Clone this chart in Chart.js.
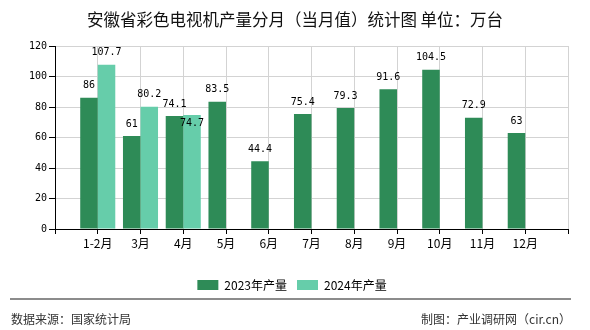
<!DOCTYPE html>
<html>
<head>
<meta charset="utf-8">
<script src="https://cdn.jsdelivr.net/npm/chart.js@4/dist/chart.umd.min.js"></script>
<style>
  html, body { margin: 0; padding: 0; background: #ffffff; }
  #wrap { position: relative; width: 590px; height: 330px; overflow: hidden; background: #fff; }
  #c { position: absolute; left: 0; top: 0; }
  #title { position: absolute; left: 0; top: 8px; width: 590px; text-align: center;
           font: 16.5px "Noto Sans CJK SC", sans-serif; line-height: 22px; color: #111; white-space: pre; }
  #fline { position: absolute; left: 10px; top: 298px; width: 561px; height: 2px; background: #8c8c8c; }
  .foot { position: absolute; top: 311px; font: 12px "Noto Sans CJK SC", sans-serif; line-height: 16px; color: #333; white-space: pre; }
  #fl { left: 11px; }
  #fr { right: 19px; }
</style>
</head>
<body>
<div id="wrap">
  <canvas id="c" width="590" height="330"></canvas>
  <div id="title">安徽省彩色电视机产量分月（当月值）统计图 单位：万台</div>
  <div id="fline"></div>
  <div class="foot" id="fl">数据来源：国家统计局</div>
  <div class="foot" id="fr">制图：产业调研网（cir.cn）</div>
</div>
<script>
const months = ['1-2月', '3月', '4月', '5月', '6月', '7月', '8月', '9月', '10月', '11月', '12月'];
const prod2023 = [86, 61, 74.1, 83.5, 44.4, 75.4, 79.3, 91.6, 104.5, 72.9, 63];
const prod2024 = [107.7, 80.2, 74.7, null, null, null, null, null, null, null, null];
const yTicks = [0, 20, 40, 60, 80, 100, 120];
const seriesNames = ['2023年产量', '2024年产量'];

// empty slots at both ends so that gridlines fall between the bar pairs
const labels = [''].concat(months, ['']);
const pad = arr => [null].concat(arr, [null]);

const numFont = '10px "DejaVu Sans Mono", monospace';

const valueLabels = {
  id: 'valueLabels',
  afterLayout(chart) {
    // centre the legend on the whole page width, as in the reference
    if (chart.legend) { chart.legend.right = 584; chart.legend.width = chart.legend.right - chart.legend.left; }
  },
  afterDatasetsDraw(chart) {
    const ctx = chart.ctx;
    ctx.save();
    ctx.font = numFont;
    ctx.fillStyle = '#000';
    ctx.textAlign = 'center';
    ctx.textBaseline = 'middle';
    const boxes = [];
    chart.data.datasets.forEach((ds, di) => {
      const meta = chart.getDatasetMeta(di);
      meta.data.forEach((el, i) => {
        const v = ds.data[i];
        if (v === null || v === undefined) return;
        const t = String(v);
        const w = ctx.measureText(t).width;
        let y = el.y - 12;
        const h = 10;
        const overlaps = boxes.some(b => Math.abs(b.x - el.x) < (b.w + w) / 2 && Math.abs(b.y - y) < h);
        if (overlaps) y = el.y + 8;
        boxes.push({x: el.x, y, w});
        ctx.fillText(t, el.x, y);
      });
    });
    ctx.restore();
  }
};

new Chart(document.getElementById('c'), {
  type: 'bar',
  data: {
    labels: labels,
    datasets: [
      { label: seriesNames[0], data: pad(prod2023), backgroundColor: '#2E8B57' },
      { label: seriesNames[1], data: pad(prod2024), backgroundColor: '#66CDAA' }
    ]
  },
  options: {
    responsive: false,
    devicePixelRatio: 1,
    animation: false,
    categoryPercentage: 0.82,
    barPercentage: 1.0,
    layout: { padding: { top: 46, right: 22, left: 0, bottom: 29 } },
    scales: {
      x: {
        offset: false,
        grid: { color: '#d3d3d3', tickColor: '#000', tickLength: 5, offset: false },
        border: { color: '#000', width: 1 },
        ticks: { color: '#000', font: { family: '"Noto Sans CJK SC"', size: 12 }, maxRotation: 0, autoSkip: false, padding: 2 },
        afterFit(s) { s.height = 40; }
      },
      y: {
        min: 0, max: 120,
        afterBuildTicks(s) { s.ticks = yTicks.map(v => ({ value: v })); },
        grid: { color: '#d3d3d3', tickColor: '#000', tickLength: 6 },
        border: { color: '#000', width: 1 },
        ticks: { color: '#000', font: { family: '"DejaVu Sans Mono", monospace', size: 10 }, padding: 2 },
        afterFit(s) { s.width = 55; }
      }
    },
    plugins: {
      legend: {
        position: 'bottom',
        labels: {
          boxWidth: 21, boxHeight: 10, padding: 10, color: '#000',
          font: { family: '"Noto Sans CJK SC"', size: 12 }
        }
      },
      tooltip: { enabled: false },
      title: { display: false }
    }
  },
  plugins: [valueLabels]
});
</script>
</body>
</html>
